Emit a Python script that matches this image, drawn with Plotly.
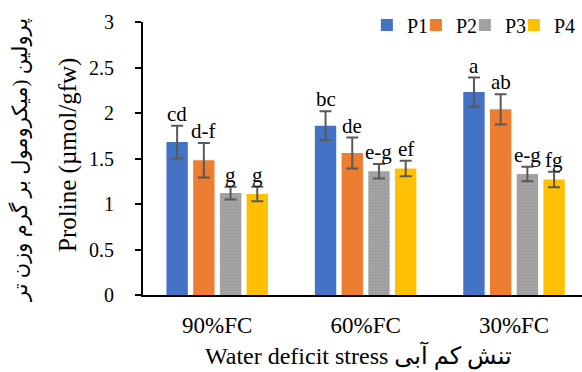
import plotly.graph_objects as go

# Water-deficit levels and proline content for four genotypes
categories = ["90%FC", "60%FC", "30%FC"]
series_names = ["P1", "P2", "P3", "P4"]

p1 = [1.68, 1.86, 2.23]
p2 = [1.48, 1.56, 2.04]
p3 = [1.12, 1.36, 1.33]
p4 = [1.11, 1.39, 1.27]

p1_err = [0.18, 0.16, 0.16]
p2_err = [0.19, 0.17, 0.165]
p3_err = [0.07, 0.08, 0.08]
p4_err = [0.08, 0.085, 0.085]

p1_letters = ["cd", "bc", "a"]
p2_letters = ["d-f", "de", "ab"]
p3_letters = ["g", "e-g", "e-g"]
p4_letters = ["g", "ef", "fg"]

y_ticks = [0, 0.5, 1, 1.5, 2, 2.5, 3]

values = [p1, p2, p3, p4]
errors = [p1_err, p2_err, p3_err, p4_err]
letters = [p1_letters, p2_letters, p3_letters, p4_letters]
colors = ["#4472C4", "#ED7D31", "#A5A5A5", "#FFC000"]

SERIF = "Liberation Serif, Times New Roman, DejaVu Sans, serif"
BARGAP = 0.28
BARGROUPGAP = 0.2

xpos = list(range(len(categories)))

fig = go.Figure()
for i, name in enumerate(series_names):
    marker = dict(color=colors[i], line=dict(width=0))
    if name == "P3":
        marker["pattern"] = dict(shape=".", size=3, solidity=0.35,
                                 fgcolor="#8C8C8C", fillmode="overlay")
    # the last legend entry gets room for its label so it is not clipped
    legend_w = 26 if i == len(series_names) - 1 else None
    fig.add_trace(go.Bar(
        x=xpos, y=values[i], name=name, marker=marker,
        legendwidth=legend_w,
        error_y=dict(type="data", array=errors[i], visible=True,
                     color="#595959", thickness=2, width=6),
    ))

# significance letters above each error bar
n = len(series_names)
slot = (1 - BARGAP) / n
for i in range(n):
    offset = (i - (n - 1) / 2) * slot
    for j, x in enumerate(xpos):
        fig.add_annotation(
            x=x + offset, y=values[i][j] + errors[i][j],
            xref="x", yref="y", text=letters[i][j], showarrow=False,
            xanchor="center", yanchor="bottom", yshift=-2,
            font=dict(family=SERIF, size=21, color="black"),
        )

# axis titles (English and Persian)
fig.add_annotation(
    x=-0.171, y=0.513, xref="paper", yref="paper",
    text="Proline (µmol/gfw)", textangle=-90, showarrow=False,
    xanchor="center", yanchor="middle",
    font=dict(family=SERIF, size=25, color="black"),
)
fig.add_annotation(
    x=-0.280, y=0.495, xref="paper", yref="paper",
    text="پرولین (میکرومول بر گرم وزن تر", textangle=-90, showarrow=False,
    xanchor="center", yanchor="middle",
    font=dict(family=SERIF, size=21, color="black"),
)
fig.add_annotation(
    x=0.491, y=-0.22, xref="paper", yref="paper",
    text="Water deficit stress تنش کم آبی", showarrow=False,
    xanchor="center", yanchor="middle",
    font=dict(family=SERIF, size=24, color="black"),
)

fig.update_layout(
    width=582, height=372,
    margin=dict(l=143, r=0, t=22, b=77, autoexpand=False),
    paper_bgcolor="white", plot_bgcolor="white",
    barmode="group", bargap=BARGAP, bargroupgap=BARGROUPGAP,
    showlegend=True,
    legend=dict(
        orientation="h", x=0.510, y=0.933, xref="paper", yref="container",
        xanchor="left", yanchor="middle", entrywidth=4,
        font=dict(family=SERIF, size=20, color="black"),
        bgcolor="rgba(0,0,0,0)",
    ),
    xaxis=dict(
        tickvals=xpos, ticktext=categories, range=[-0.5, 2.458],
        showline=True, linecolor="black", linewidth=2,
        ticks="", showgrid=False, zeroline=False,
        ticklabelstandoff=8,
        tickfont=dict(family=SERIF, size=23, color="black"),
    ),
    yaxis=dict(
        range=[0, 3], tickvals=y_ticks,
        ticktext=[f"{v:g}" for v in y_ticks],
        showline=True, linecolor="black", linewidth=2,
        ticks="outside", ticklen=6, tickwidth=2, tickcolor="black",
        showgrid=False, zeroline=False,
        ticklabelstandoff=17,
        tickfont=dict(family=SERIF, size=20, color="black"),
    ),
)

fig.write_html("out.html")
